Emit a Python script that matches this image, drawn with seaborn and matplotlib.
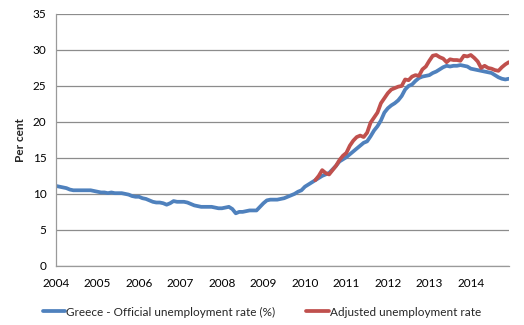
import matplotlib
matplotlib.use("Agg")
import matplotlib.pyplot as plt
import seaborn as sns
import numpy as np
import pandas as pd

years = [str(y) for y in range(2004, 2015)]

official = [
    11.1, 11.0, 10.9, 10.8, 10.6, 10.5, 10.5, 10.5, 10.5, 10.5, 10.5, 10.4,
    10.3, 10.2, 10.2, 10.1, 10.2, 10.1, 10.1, 10.1, 10.0, 9.9, 9.7, 9.6,
    9.6, 9.4, 9.3, 9.1, 8.9, 8.8, 8.8, 8.7, 8.5, 8.7, 9.0, 8.9,
    8.9, 8.9, 8.8, 8.6, 8.4, 8.3, 8.2, 8.2, 8.2, 8.2, 8.1, 8.0,
    8.0, 8.1, 8.2, 7.9, 7.3, 7.5, 7.5, 7.6, 7.7, 7.7, 7.7, 8.2,
    8.7, 9.1, 9.2, 9.2, 9.2, 9.3, 9.4, 9.6, 9.8, 10.0, 10.3, 10.5,
    11.0, 11.3, 11.6, 11.9, 12.2, 12.5, 12.7, 12.9, 13.4, 13.9, 14.5, 14.8,
    15.1, 15.5, 15.9, 16.3, 16.7, 17.1, 17.3, 18.0, 18.8, 19.4, 20.2, 21.3,
    21.9, 22.3, 22.6, 23.0, 23.6, 24.5, 25.0, 25.2, 25.7, 26.1, 26.3, 26.4,
    26.5, 26.8, 27.0, 27.3, 27.6, 27.8, 27.7, 27.8, 27.8, 27.9, 27.8, 27.7,
    27.4, 27.3, 27.2, 27.1, 27.0, 26.9, 26.8, 26.5, 26.2, 26.0, 25.9, 26.0,
]

adjusted_start = 75  # April 2010
adjusted = [
    11.9, 12.5, 13.3, 12.9, 12.7, 13.3, 13.9, 14.7, 15.3,
    15.7, 16.7, 17.4, 17.9, 18.1, 17.9, 18.5, 19.9, 20.6, 21.3, 22.6, 23.3,
    24.0, 24.5, 24.7, 24.9, 25.0, 25.9, 25.8, 26.3, 26.5, 26.4, 27.3, 27.7,
    28.5, 29.2, 29.3, 29.0, 28.8, 28.3, 28.7, 28.6, 28.6, 28.5, 29.2, 29.1,
    29.3, 28.9, 28.4, 27.5, 27.8, 27.5, 27.4, 27.2, 27.1, 27.6, 28.0, 28.3,
]

label_off = "Greece - Official unemployment rate (%)"
label_adj = "Adjusted unemployment rate"

df_off = pd.DataFrame({"month": np.arange(len(official)), "value": official, "series": label_off})
df_adj = pd.DataFrame({"month": np.arange(adjusted_start, adjusted_start + len(adjusted)),
                       "value": adjusted, "series": label_adj})
df = pd.concat([df_off, df_adj], ignore_index=True)

sns.set_style("white")
plt.rcParams["font.family"] = ["Lato", "DejaVu Sans"]

fig = plt.figure(figsize=(5.24, 3.25), dpi=100)
ax = fig.add_axes([0.107, 0.182, 0.864, 0.775])

sns.lineplot(data=df, x="month", y="value", hue="series",
             palette={label_off: "#4F81BD", label_adj: "#C0504D"},
             linewidth=2.7, ax=ax, legend=False)

ax.set_xlim(0, len(official) - 1)
ax.set_ylim(0, 35)
ax.set_yticks(range(0, 36, 5))
ax.set_xticks(list(range(0, 121, 12)) + [len(official) - 1])
ax.set_xticklabels(years + [""])
ax.grid(axis="y", color="#8c8c8c", linewidth=0.9)
ax.set_axisbelow(True)
for s in ["top", "right"]:
    ax.spines[s].set_visible(False)
for s in ["left", "bottom"]:
    ax.spines[s].set_color("#9a9a9a")
    ax.spines[s].set_linewidth(0.9)
ax.tick_params(axis="both", labelsize=8.5, colors="#9a9a9a", labelcolor="black",
               length=4, width=0.9, direction="out")
ax.tick_params(axis="x", pad=5)
ax.tick_params(axis="y", pad=3)
ax.set_xlabel("")
ax.set_ylabel("Per cent", fontsize=8.5, fontweight="bold", labelpad=5)

from matplotlib.lines import Line2D
handles = [Line2D([], [], color="#4F81BD", linewidth=2.7),
           Line2D([], [], color="#C0504D", linewidth=2.7)]
fig.legend(handles, [label_off, label_adj], loc="lower center", bbox_to_anchor=(0.5, -0.01),
           ncol=2, frameon=False, fontsize=8.5, handlelength=1.9, handletextpad=0.1,
           columnspacing=2.6)

fig.savefig("out.png", dpi=100)
